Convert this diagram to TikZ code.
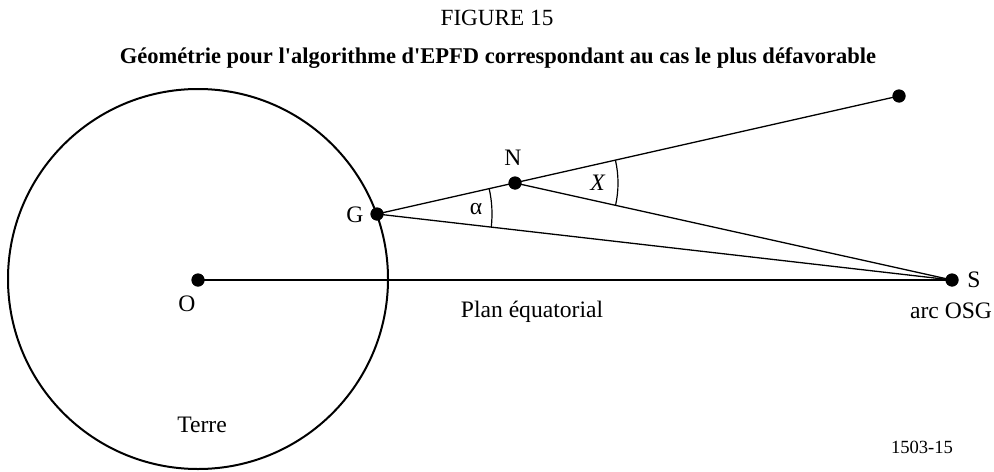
\documentclass[tikz,border=0pt]{standalone}
\usepackage{fontspec}
\setmainfont{Liberation Serif}
\usetikzlibrary{angles}
\begin{document}
\begin{tikzpicture}[x=0.5pt,y=-0.5pt,
  lbl/.style={inner sep=0pt,font=\fontsize{11.8}{13}\selectfont},
  dotpt/.style={circle,fill=black,inner sep=0pt,minimum size=6.5pt},
  ray/.style={line width=0.65pt},
  angarc/.style={draw,line width=0.6pt}]
\useasboundingbox (0,0) rectangle (994,471);
% points
\coordinate (C) at (198,279);
\node[dotpt] (O) at (198,280) {};
\node[dotpt] (G) at (377,214) {};
\node[dotpt] (N) at (515,183) {};
\node[dotpt] (T) at (899,96) {};
\node[dotpt] (S) at (952,280) {};
% earth
\draw[line width=1pt] (C) circle[radius=95pt];
% lines
\draw[ray] (G.center) -- (T.center);
\draw[ray] (G.center) -- (S.center);
\draw[ray] (N.center) -- (S.center);
\draw[ray] (O.center) -- (S.center);
\node[dotpt] at (G) {};
\node[dotpt] at (N) {};
\node[dotpt] at (O) {};
\node[dotpt] at (S) {};
\node[dotpt] at (T) {};
% angles
\coordinate (Gc) at (G.center);
\coordinate (Nc) at (N.center);
\coordinate (Sc) at (S.center);
\coordinate (Tc) at (T.center);
\pic[angarc,angle radius=57.5pt] {angle=Sc--Gc--Nc};
\pic[angarc,angle radius=51.5pt] {angle=Sc--Nc--Tc};
% labels
\node[lbl,font=\fontsize{11.6}{13}\selectfont] (t1) at (497,18) {FIGURE 15};
\node[lbl,font=\fontsize{11.25}{13}\bfseries\selectfont] (t2) at (498,58) {Géométrie pour l\textquotesingle algorithme d\textquotesingle EPFD correspondant au cas le plus défavorable};
\node[lbl] (lN) at (513,158) {N};
\node[lbl] (lG) at (355,215) {G};
\node[lbl] (lO) at (187,304) {O};
\node[lbl] (lS) at (974,280) {S};
\node[lbl] (la) at (476,209) {α};
\node[lbl] (lX) at (598,183) {\textit{X}};
\node[lbl] (lp) at (532,312) {Plan équatorial};
\node[lbl] (lo) at (951,311) {arc OSG};
\node[lbl] (lt) at (202,425) {Terre};
\node[lbl,font=\fontsize{9.3}{11}\selectfont] (lc) at (922,447) {1503-15};
\end{tikzpicture}
\end{document}
